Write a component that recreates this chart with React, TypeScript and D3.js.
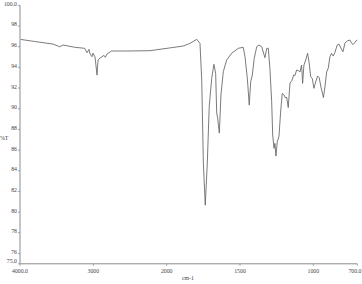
import React from "react";
import * as d3 from "d3";

const wavenumbers = [
  3990, 3800, 3550, 3459, 3414, 3254, 3118, 3086, 3059, 3045, 3018, 3005, 2977, 2950, 2936, 2909,
  2855, 2837, 2814, 2773, 2755, 2527, 2227, 1887, 1841, 1795, 1773, 1761, 1750, 1737, 1723, 1710,
  1693, 1678, 1666, 1659, 1652, 1648, 1641, 1630, 1614, 1591, 1557, 1512, 1478, 1466, 1450, 1437,
  1427, 1416, 1403, 1386, 1371, 1352, 1330, 1318, 1307, 1296, 1284, 1277, 1268, 1262, 1255, 1246,
  1234, 1223, 1212, 1200, 1189, 1182, 1171, 1159, 1146, 1134, 1125, 1114, 1103, 1091, 1080, 1073,
  1064, 1052, 1039, 1028, 1018, 1007, 996, 984, 970, 960, 948, 931, 921, 909, 898, 887, 876, 864,
  853, 837, 825, 812, 798, 784, 769, 750, 738, 728, 709, 700,
];
const transmittance = [
  96.7, 96.5, 96.25, 95.99, 96.16, 95.94, 95.84, 95.41, 95.74, 95.29, 95.03, 95.38, 95.0, 93.25, 94.71, 94.9,
  95.16, 94.97, 95.29, 95.48, 95.58, 95.58, 95.61, 96.06, 96.32, 96.71, 96.32, 92.77, 84.74, 80.67, 84.74, 90.19,
  92.94, 94.29, 93.42, 89.58, 89.06, 88.51, 87.64, 91.32, 93.57, 94.71, 95.36, 95.84, 95.94, 95.03, 92.94, 90.35,
  92.61, 93.26, 94.87, 95.99, 96.16, 95.99, 94.93, 95.84, 95.84, 93.9, 90.67, 87.45, 86.16, 86.65, 85.42, 86.77,
  87.35, 89.67, 91.48, 91.32, 91.03, 91.13, 90.11, 92.48, 92.72, 93.26, 93.21, 93.74, 93.69, 93.55, 94.22, 92.45,
  94.22, 94.71, 95.36, 94.39, 93.09, 92.94, 91.97, 92.58, 93.16, 93.01, 92.09, 91.08, 92.09, 93.55, 93.93, 95.0, 95.36, 95.09,
  95.43, 96.16, 96.25, 95.87, 95.51, 96.35, 96.55, 96.64, 96.32, 96.21, 96.55, 96.64,
];
const xTicks = [4000, 3000, 2000, 1500, 1000, 700];
const xTickLabels = ["4000.0", "3000", "2000", "1500", "1000", "700.0"];
const yTicks = [100, 98, 96, 94, 92, 90, 88, 86, 84, 82, 80, 78, 76, 75];
const yTickLabels = ["100.0", "98", "96", "94", "92", "90", "88", "86", "84", "82", "80", "78", "76", "75.0"];

const W = 362;
const H = 284;

export default function App() {
  const x = d3.scaleLinear().domain([4000, 2000, 700]).range([20, 166.7, 357.3]);
  const y = d3.scaleLinear().domain([75, 100]).range([263.8, 5.3]);
  const pts: [number, number][] = wavenumbers.map((w, i) => [w, transmittance[i]]);
  const line = d3
    .line<[number, number]>()
    .x((d) => x(d[0]))
    .y((d) => y(d[1]))
    .curve(d3.curveLinear);
  const axisColor = "#8c8c8c";
  const textColor = "#444";
  const font = "'Liberation Serif', 'Times New Roman', serif";
  return (
    <svg
      width={W}
      height={H}
      style={{ position: "absolute", left: 0, top: 0, background: "#fff" }}
      fontFamily={font}
    >
      <line x1={x(4000)} x2={x(4000)} y1={y(100)} y2={y(75)} stroke={axisColor} strokeWidth={1} />
      <line x1={x(4000)} x2={x(700)} y1={y(75)} y2={y(75)} stroke={axisColor} strokeWidth={1} />
      {yTicks.map((t, i) => (
        <g key={"y" + t}>
          <line x1={x(4000) - 2} x2={x(4000)} y1={y(t)} y2={y(t)} stroke={axisColor} strokeWidth={0.8} />
          <text
            x={x(4000) - 3}
            y={y(t) + (t === 75 ? -0.5 : 0.5)}
            fontSize={5.8}
            textAnchor="end"
            fill={textColor}
          >
            {yTickLabels[i]}
          </text>
        </g>
      ))}
      {xTicks.map((t, i) => (
        <g key={"x" + t}>
          <line x1={x(t)} x2={x(t)} y1={y(75)} y2={y(75) + 2} stroke={axisColor} strokeWidth={0.8} />
          <text
            x={t === 700 ? W - 0.5 : x(t)}
            y={y(75) + 9}
            fontSize={5.8}
            textAnchor={t === 700 ? "end" : "middle"}
            fill={textColor}
          >
            {xTickLabels[i]}
          </text>
        </g>
      ))}
      <text x={0} y={140} fontSize={5.8} fill={textColor}>
        %T
      </text>
      <text x={188} y={279.5} fontSize={5.8} textAnchor="middle" fill={textColor}>
        cm-1
      </text>
      <path d={line(pts) || ""} fill="none" stroke="#636363" strokeWidth={0.85} strokeLinejoin="round" />
    </svg>
  );
}
